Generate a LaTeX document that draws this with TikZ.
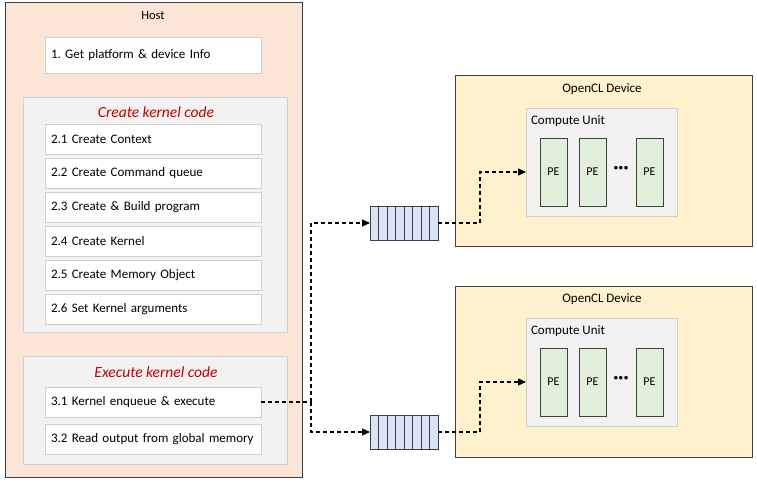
\documentclass[tikz,border=0pt]{standalone}
\usepackage{fontspec}
\setmainfont{Carlito}
\usetikzlibrary{arrows.meta,shadows,calc}
\definecolor{hostfill}{HTML}{FBE5D6}
\definecolor{devfill}{HTML}{FFF2CC}
\definecolor{grpfill}{HTML}{F2F2F2}
\definecolor{pefill}{HTML}{E2EFDA}
\definecolor{qfill}{HTML}{DAE3F3}
\definecolor{darkline}{HTML}{404040}
\definecolor{lightline}{HTML}{D0D0D0}
\definecolor{titlered}{HTML}{C00000}
\tikzset{
  every node/.style={font=\fontsize{13}{15}\selectfont, inner sep=0pt, outer sep=0pt},
  frame/.style={draw=darkline, line width=1pt, anchor=north west},
  group/.style={draw=lightline, line width=0.8pt, fill=grpfill, anchor=north west,
    drop shadow={opacity=0.18, shadow xshift=1.2pt, shadow yshift=-1.2pt}},
  item/.style={draw=lightline, line width=0.8pt, fill=white, anchor=north west,
    minimum width=216pt, minimum height=30pt, text width=204pt, align=left, inner xsep=6pt,
    drop shadow={opacity=0.2, shadow xshift=1.2pt, shadow yshift=-1.2pt}},
  grptitle/.style={font=\fontsize{15.5}{17}\selectfont\itshape, text=titlered},
  pebox/.style={draw=darkline, line width=0.8pt, fill=pefill, anchor=north west,
    minimum width=27pt, minimum height=68pt, font=\fontsize{12}{14}\selectfont},
  queue/.style={draw=darkline, line width=0.8pt, fill=qfill, anchor=north west,
    minimum width=68pt, minimum height=34pt},
  conn/.style={line width=1.1pt, dash pattern=on 4pt off 3pt},
  arr/.style={conn, -{Triangle[length=8pt,width=7pt]}}
}
\newcommand{\drawqueue}[1]{%
  \foreach \i in {1,...,7}{\draw[darkline, line width=0.8pt] ($(#1.north west)+(\i*8.5pt,0)$) -- ($(#1.south west)+(\i*8.5pt,0)$);}}
\begin{document}
\begin{tikzpicture}[x=1pt,y=-1pt]
\useasboundingbox (0,0) rectangle (757,486);
% Host
\node[frame, fill=hostfill, minimum width=297pt, minimum height=474pt] (host) at (5,3) {};
\node[font=\fontsize{12.5}{14}\selectfont] (hostt) at (153,16) {Host};
\node[item, minimum height=36pt] (n1) at (45,37) {1.\ Get platform \& device Info};
% Create kernel code group
\node[group, minimum width=264pt, minimum height=235pt] (g2) at (23,97) {};
\node[grptitle] (g2t) at (156,112) {Create kernel code};
\node[item] (n21) at (45,124) {2.1 Create Context};
\node[item] (n22) at (45,158) {2.2 Create Command queue};
\node[item] (n23) at (45,192) {2.3 Create \& Build program};
\node[item] (n24) at (45,226) {2.4 Create Kernel};
\node[item] (n25) at (45,260) {2.5 Create Memory Object};
\node[item] (n26) at (45,294) {2.6 Set Kernel arguments};
% Execute group
\node[group, minimum width=264pt, minimum height=108pt] (g3) at (23,356) {};
\node[grptitle] (g3t) at (156,372) {Execute kernel code};
\node[item] (n31) at (45,387) {3.1 Kernel enqueue \& execute};
\node[item] (n32) at (45,424) {3.2 Read output from global memory};
% Devices
\foreach \k/\dy in {1/0,2/210}{
  \node[frame, fill=devfill, minimum width=297pt, minimum height=171pt] (dev\k) at (455,76+\dy) {};
  \node (devt\k) at (602,89+\dy) {OpenCL Device};
  \node[group, minimum width=151pt, minimum height=108pt] (cu\k) at (526,108+\dy) {};
  \node[anchor=west] (cut\k) at (531,121+\dy) {Compute Unit};
  \node[pebox] (pea\k) at (540,138+\dy) {PE};
  \node[pebox] (peb\k) at (579,138+\dy) {PE};
  \node[pebox] (pec\k) at (636,138+\dy) {PE};
  \node[font=\fontsize{19}{19}\selectfont\bfseries] (dots\k) at (621,170+\dy) {···};
}
% Queues
\node[queue] (q1) at (370,206) {};
\node[queue] (q2) at (370,415) {};
\drawqueue{q1}
\drawqueue{q2}
% Connectors
\coordinate (j) at (311,402);
\coordinate (b1) at (480,223);
\coordinate (b2) at (480,432);
\draw[conn] (n31.east) -- (j);
\draw[arr] (j) |- (q1.west);
\draw[arr] (j) |- (q2.west);
\draw[conn] (q1.east) -- (b1);
\draw[arr] (b1) |- (cu1.west |- pea1.center);
\draw[conn] (q2.east) -- (b2);
\draw[arr] (b2) |- (cu2.west |- pea2.center);
\end{tikzpicture}
\end{document}
